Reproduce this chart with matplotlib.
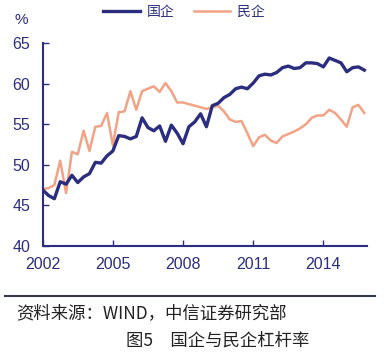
import matplotlib
matplotlib.use('Agg')
import matplotlib.pyplot as plt
import numpy as np

plt.rcParams['font.family'] = ['Liberation Sans', 'Noto Sans CJK SC', 'DejaVu Sans']

# quarterly data, 2002Q1 .. 2015Q4
start_year = 2002
soe = [46.9, 46.2, 45.8, 47.9, 47.6, 48.7, 47.8, 48.5, 48.9, 50.3,
       50.2, 51.1, 51.7, 53.6, 53.5, 53.2, 53.5, 55.8, 54.6, 54.2,
       54.8, 52.9, 54.9, 53.9, 52.6, 54.7, 55.3, 56.3, 54.7, 57.3,
       57.6, 58.3, 58.7, 59.4, 59.6, 59.4, 60.1, 61.0, 61.2, 61.1,
       61.4, 62.0, 62.2, 61.9, 62.0, 62.6, 62.6, 62.5, 62.1, 63.2,
       62.9, 62.6, 61.5, 62.0, 62.1, 61.7]
private = [47.0, 47.1, 47.5, 50.5, 46.5, 51.6, 51.3, 54.2, 51.7, 54.7,
           54.8, 56.4, 52.4, 56.5, 56.6, 59.1, 56.8, 59.1, 59.4, 59.7,
           59.0, 60.1, 59.1, 57.7, 57.7, 57.5, 57.3, 57.1, 56.9, 57.1,
           57.3, 56.6, 55.6, 55.3, 55.4, 53.9, 52.3, 53.4, 53.7, 53.0,
           52.7, 53.5, 53.8, 54.1, 54.5, 55.0, 55.8, 56.1, 56.1, 56.8,
           56.4, 55.6, 54.7, 57.1, 57.4, 56.4]
labels = ['国企', '民企']
xticks = [2002, 2005, 2008, 2011, 2014]
yticks = [40, 45, 50, 55, 60, 65]

navy = '#2b2e7e'
salmon = '#f2a285'

t = start_year + np.arange(len(soe)) * 0.25

fig = plt.figure(figsize=(3.88, 3.56), dpi=100)
ax = fig.add_axes([0.110, 0.310, 0.835, 0.568])

ax.plot(t, soe, color=navy, lw=2.4, label=labels[0], zorder=3)
ax.plot(t, private, color=salmon, lw=1.8, label=labels[1], zorder=2)

ax.set_xlim(2002, 2015.85)
ax.set_ylim(40, 65)
ax.set_xticks(xticks)
ax.set_yticks(yticks)
for s in ['top', 'right']:
    ax.spines[s].set_visible(False)
for s in ['left', 'bottom']:
    ax.spines[s].set_color(navy)
    ax.spines[s].set_linewidth(1.5)
ax.tick_params(direction='in', colors=navy, labelsize=11.5, length=4, width=1)
ax.tick_params(axis='x', pad=8)
ax.tick_params(axis='y', pad=9)

ax.text(-0.065, 1.115, '%', transform=ax.transAxes, color=navy, fontsize=11,
        ha='center', va='center')

ax.legend(loc='center', bbox_to_anchor=(0.436, 1.155), ncol=2, frameon=False,
          fontsize=10, handlelength=2.6, columnspacing=1.4, handletextpad=0.5,
          labelcolor=navy)

# separator line and captions
fig.add_artist(plt.Line2D([0.013, 0.967], [1 - 296 / 356, 1 - 296 / 356],
                          transform=fig.transFigure, color='#333a4a', lw=1.5))
fig.text(0.042, 1 - 313 / 356, '资料来源：WIND，中信证券研究部',
         family=['Noto Sans CJK SC', 'DejaVu Sans'], fontsize=12.5,
         ha='left', va='center', color='#222222')
fig.text(0.562, 1 - 341 / 356, '图5　国企与民企杠杆率',
         family=['Noto Sans CJK SC', 'DejaVu Sans'], fontsize=12.5,
         ha='center', va='center', color='#222222')

fig.savefig('out.png', dpi=100)
